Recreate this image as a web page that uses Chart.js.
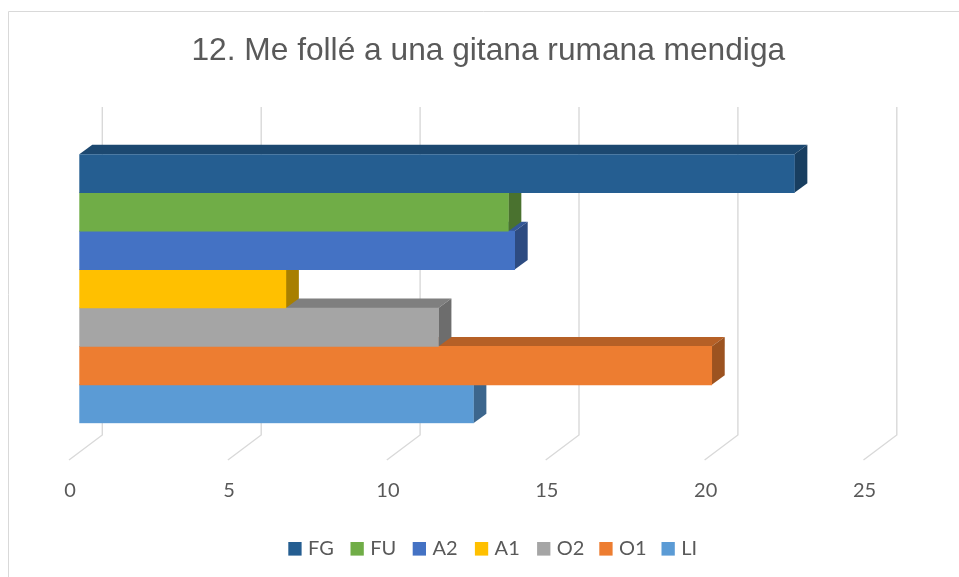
<!DOCTYPE html>
<html>
<head>
<meta charset="utf-8">
<style>
  html, body { margin: 0; padding: 0; background: #ffffff; }
  #wrap { position: relative; width: 959px; height: 577px; }
  canvas { display: block; }
</style>
<script src="https://cdn.jsdelivr.net/npm/chart.js@4"></script>
</head>
<body>
<div id="wrap"><canvas id="c" width="959" height="577"></canvas></div>
<script>
// ---- data ----
const chartTitle = '12. Me follé a una gitana rumana mendiga';
const categories = [''];
const seriesNames = ['FG', 'FU', 'A2', 'A1', 'O2', 'O1', 'LI'];
const seriesValues = [22.5, 13.5, 13.7, 6.5, 11.3, 19.9, 12.4];
const seriesColors = ['#255E91', '#70AD47', '#4472C4', '#FFC000', '#A5A5A5', '#ED7D31', '#5B9BD5'];
const tickValues = [0, 5, 10, 15, 20, 25];

// ---- styling constants ----
const TEXT = '#595959';
const GRID = '#D9D9D9';
const DEPTH_DX = 13, DEPTH_DY = -9.5;   // visible bar depth
const BACK_DX = 23;                     // back wall offset from bar front plane
const FRONT_DX = -10.3;                 // floor front edge offset from bar front plane

function shade(hex, f) {
  const n = parseInt(hex.slice(1), 16);
  const r = Math.round(((n >> 16) & 255) * f);
  const g = Math.round(((n >> 8) & 255) * f);
  const b = Math.round((n & 255) * f);
  return 'rgb(' + r + ',' + g + ',' + b + ')';
}

const framePlugin = {
  id: 'frame',
  beforeDraw(chart) {
    const ctx = chart.ctx;
    ctx.save();
    // outer frame (only left and top visible)
    ctx.strokeStyle = GRID;
    ctx.lineWidth = 1;
    ctx.beginPath();
    ctx.moveTo(8.5, 577);
    ctx.lineTo(8.5, 11.5);
    ctx.lineTo(959, 11.5);
    ctx.stroke();
    // title
    ctx.fillStyle = TEXT;
    ctx.font = '31.7px "Liberation Sans", Arial, sans-serif';
    ctx.textAlign = 'center';
    ctx.textBaseline = 'alphabetic';
    ctx.fillText(chartTitle, 488.3, 60);
    ctx.restore();
  }
};

const gridPlugin = {
  id: 'grid3d',
  beforeDatasetsDraw(chart) {
    const ctx = chart.ctx;
    const xs = chart.scales.x;
    ctx.save();
    ctx.strokeStyle = GRID;
    ctx.lineWidth = 1.4;
    tickValues.forEach(v => {
      const px = xs.getPixelForValue(v);
      ctx.beginPath();
      ctx.moveTo(px + BACK_DX, 107);
      ctx.lineTo(px + BACK_DX, 435);
      ctx.lineTo(px + FRONT_DX, 460);
      ctx.stroke();
    });
    // tick labels
    ctx.fillStyle = TEXT;
    ctx.font = '20px Lato, "Open Sans", sans-serif';
    ctx.textAlign = 'center';
    ctx.textBaseline = 'middle';
    tickValues.forEach(v => {
      const px = xs.getPixelForValue(v);
      ctx.fillText(String(v), px - 9.2, 490.5);
    });
    ctx.restore();
  }
};

const facesPlugin = {
  id: 'faces3d',
  beforeDatasetsDraw(chart) {
    const ctx = chart.ctx;
    const bars = [];
    chart.data.datasets.forEach((ds, i) => {
      const meta = chart.getDatasetMeta(i);
      meta.data.forEach(el => {
        const p = el.getProps(['x', 'y', 'base', 'height'], true);
        bars.push({
          left: Math.min(p.base, p.x), right: Math.max(p.base, p.x),
          top: p.y - p.height / 2, bottom: p.y + p.height / 2,
          color: ds.backgroundColor
        });
      });
    });
    ctx.save();
    // top faces
    bars.forEach(b => {
      ctx.fillStyle = shade(b.color, 0.77);
      ctx.beginPath();
      ctx.moveTo(b.left, b.top);
      ctx.lineTo(b.left + DEPTH_DX, b.top + DEPTH_DY);
      ctx.lineTo(b.right + DEPTH_DX, b.top + DEPTH_DY);
      ctx.lineTo(b.right, b.top);
      ctx.closePath();
      ctx.fill();
    });
    // side faces: shorter first, longer bars drawn over
    bars.slice().sort((a, b) => a.right - b.right).forEach(b => {
      ctx.fillStyle = shade(b.color, 0.66);
      ctx.beginPath();
      ctx.moveTo(b.right, b.top);
      ctx.lineTo(b.right + DEPTH_DX, b.top + DEPTH_DY);
      ctx.lineTo(b.right + DEPTH_DX, b.bottom + DEPTH_DY);
      ctx.lineTo(b.right, b.bottom);
      ctx.closePath();
      ctx.fill();
    });
    ctx.restore();
  }
};

const legendPlugin = {
  id: 'legendCustom',
  afterDraw(chart) {
    const ctx = chart.ctx;
    ctx.save();
    ctx.font = '20px Lato, "Open Sans", sans-serif';
    ctx.textAlign = 'left';
    ctx.textBaseline = 'middle';
    chart.data.datasets.forEach((ds, i) => {
      const x0 = 288.3 + i * 62.2;
      ctx.fillStyle = ds.backgroundColor;
      ctx.fillRect(x0, 542, 13.3, 13.6);
      ctx.fillStyle = TEXT;
      ctx.fillText(ds.label, x0 + 19.7, 549);
    });
    ctx.restore();
  }
};

const datasets = seriesNames.map((name, i) => ({
  label: name,
  data: [seriesValues[i]],
  backgroundColor: seriesColors[i],
  borderWidth: 0,
  barPercentage: 1,
  categoryPercentage: 1
}));

new Chart(document.getElementById('c'), {
  type: 'bar',
  data: { labels: categories, datasets: datasets },
  options: {
    indexAxis: 'y',
    responsive: false,
    animation: false,
    devicePixelRatio: 1,
    layout: { padding: { left: 79.3, right: 85.2, top: 154.3, bottom: 153.7 } },
    plugins: {
      legend: { display: false },
      title: { display: false },
      tooltip: { enabled: false }
    },
    scales: {
      x: { display: false, min: 0, max: 25, ticks: { stepSize: 5 } },
      y: { display: false, offset: true }
    }
  },
  plugins: [framePlugin, gridPlugin, facesPlugin, legendPlugin]
});
</script>
</body>
</html>
